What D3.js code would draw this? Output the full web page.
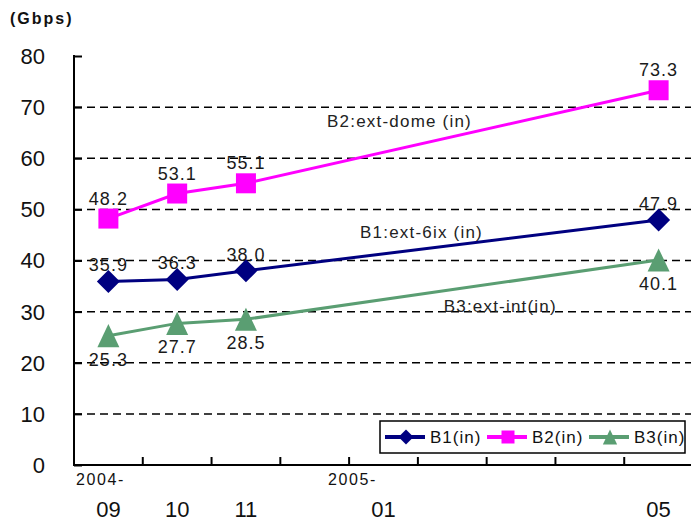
<!DOCTYPE html>
<html>
<head>
<meta charset="utf-8">
<script src="https://cdn.jsdelivr.net/npm/d3@7"></script>
<style>
  body { margin: 0; background: #fff; }
  svg { display: block; }
  text { font-family: "Liberation Sans", Arial, sans-serif; }
</style>
</head>
<body>
<script>
// Months on the category axis (one slot per month, Excel style)
var months = ["2004-09", "2004-10", "2004-11", "2004-12", "2005-01", "2005-02", "2005-03", "2005-04", "2005-05"];
var monthLabels = ["09", "10", "11", "", "01", "", "", "", "05"];
var yearLabels = ["2004-", "", "", "", "2005-", "", "", "", ""];

// Months that actually have measurements
var dataMonths = ["2004-09", "2004-10", "2004-11", "2005-05"];
var b1Values = [35.9, 36.3, 38.0, 47.9];
var b2Values = [48.2, 53.1, 55.1, 73.3];
var b3Values = [25.3, 27.7, 28.5, 40.1];

var seriesNames = ["B1(in)", "B2(in)", "B3(in)"];
var seriesTitles = ["B1:ext-6ix (in)", "B2:ext-dome (in)", "B3:ext-int(in)"];
var yTicks = [0, 10, 20, 30, 40, 50, 60, 70, 80];

var width = 691, height = 522;
var svg = d3.select("body").append("svg")
    .attr("width", width)
    .attr("height", height);

var x = d3.scaleBand().domain(months).range([74, 693]);
var y = d3.scaleLinear().domain([0, 80]).range([465, 56]);
var cx = function(m) { return x(m) + x.bandwidth() / 2; };

// dashed grid lines
svg.append("g").selectAll("line")
    .data(yTicks.filter(function(d) { return d > 0 && d < 80; }))
    .enter().append("line")
    .attr("x1", 74).attr("x2", width)
    .attr("y1", function(d) { return y(d); })
    .attr("y2", function(d) { return y(d); })
    .attr("stroke", "#000")
    .attr("stroke-width", 1.5)
    .attr("stroke-dasharray", "8,5");

// y axis, ticks pointing inward
var yAxis = svg.append("g")
    .attr("transform", "translate(74,0)")
    .call(d3.axisRight(y).tickValues(yTicks).tickSize(8).tickFormat(""));
yAxis.select(".domain").remove();
yAxis.selectAll("line").attr("stroke", "#000").attr("stroke-width", 2);
svg.append("line")
    .attr("x1", 74).attr("x2", 74)
    .attr("y1", y(80) - 1).attr("y2", y(0) + 1)
    .attr("stroke", "#000").attr("stroke-width", 2);

svg.append("g").selectAll("text")
    .data(yTicks)
    .enter().append("text")
    .attr("x", 45)
    .attr("y", function(d) { return y(d); })
    .attr("dy", "0.36em")
    .attr("text-anchor", "end")
    .style("font-size", "22px")
    .attr("fill", "#111")
    .text(function(d) { return d; });

svg.append("text")
    .attr("x", 10).attr("y", 24)
    .style("font-size", "16px")
    .style("font-weight", "bold")
    .attr("letter-spacing", "2")
    .attr("fill", "#111")
    .text("(Gbps)");

// x axis line with ticks between categories
svg.append("line")
    .attr("x1", 74).attr("x2", width)
    .attr("y1", y(0)).attr("y2", y(0))
    .attr("stroke", "#000").attr("stroke-width", 2);
svg.append("g").selectAll("line")
    .data(months.slice(1))
    .enter().append("line")
    .attr("x1", function(d) { return x(d); })
    .attr("x2", function(d) { return x(d); })
    .attr("y1", y(0)).attr("y2", y(0) - 8)
    .attr("stroke", "#000").attr("stroke-width", 2);

svg.append("g").selectAll("text")
    .data(months)
    .enter().append("text")
    .attr("x", function(d) { return cx(d); })
    .attr("y", 517)
    .attr("text-anchor", "middle")
    .style("font-size", "22px")
    .attr("fill", "#111")
    .text(function(d, i) { return monthLabels[i]; });

// year prefixes sit a little left of their month
var yearShift = { "2004-09": -8, "2005-01": -31 };
svg.append("g").selectAll("text")
    .data(months.filter(function(d, i) { return yearLabels[i] !== ""; }))
    .enter().append("text")
    .attr("x", function(d) { return cx(d) + yearShift[d]; })
    .attr("y", 485)
    .attr("text-anchor", "middle")
    .style("font-size", "16px")
    .attr("letter-spacing", "1.6")
    .attr("fill", "#111")
    .text(function(d) { return yearLabels[months.indexOf(d)]; });

// marker shapes
var shapes = {
    diamond: function(s) { return "M0," + (-s) + "L" + s + ",0L0," + s + "L" + (-s) + ",0Z"; },
    square: function(s) { return "M" + (-s) + "," + (-s) + "h" + (2 * s) + "v" + (2 * s) + "h" + (-2 * s) + "Z"; },
    triangle: function(s) { return "M0," + (-s * 1.05) + "L" + s + "," + (s * 1.05) + "L" + (-s) + "," + (s * 1.05) + "Z"; }
};

var series = [
    { name: seriesNames[0], values: b1Values, color: "#000080", shape: "diamond", size: 11.5, labelDy: -10 },
    { name: seriesNames[1], values: b2Values, color: "#ff00ff", shape: "square", size: 10, labelDy: -14 },
    { name: seriesNames[2], values: b3Values, color: "#5a9e72", shape: "triangle", size: 11, labelDy: 30 }
];

var line = d3.line()
    .x(function(d) { return cx(d.month); })
    .y(function(d) { return y(d.value); });

series.forEach(function(s) {
    var pts = dataMonths.map(function(m, i) { return { month: m, value: s.values[i] }; });
    svg.append("path")
        .datum(pts)
        .attr("d", line)
        .attr("fill", "none")
        .attr("stroke", s.color)
        .attr("stroke-width", 3);
    svg.append("g").selectAll("path")
        .data(pts)
        .enter().append("path")
        .attr("d", shapes[s.shape](s.size))
        .attr("transform", function(d) { return "translate(" + cx(d.month) + "," + y(d.value) + ")"; })
        .attr("fill", s.color);
    s.pts = pts;
});

series.forEach(function(s) {
    svg.append("g").selectAll("text")
        .data(s.pts)
        .enter().append("text")
        .attr("x", function(d) { return cx(d.month); })
        .attr("y", function(d) { return y(d.value) + s.labelDy; })
        .attr("text-anchor", "middle")
        .style("font-size", "18px")
        .attr("letter-spacing", "1")
        .attr("fill", "#1a1a1a")
        .text(function(d) { return d.value.toFixed(1); });
});

// series titles written on the chart
var titleSpots = [
    { month: "2005-01", dx: 38, value: 44.4 },
    { month: "2005-01", dx: 16, value: 66.1 },
    { month: "2005-02", dx: 48, value: 30 }
];
svg.append("g").selectAll("text")
    .data(seriesTitles)
    .enter().append("text")
    .attr("x", function(d, i) { return cx(titleSpots[i].month) + titleSpots[i].dx; })
    .attr("y", function(d, i) { return y(titleSpots[i].value); })
    .attr("text-anchor", "middle")
    .style("font-size", "17px")
    .attr("letter-spacing", "1.2")
    .attr("fill", "#222")
    .text(function(d) { return d; });

// legend
var legend = svg.append("g").attr("transform", "translate(380,421)");
legend.append("rect")
    .attr("width", 305).attr("height", 32)
    .attr("fill", "#fff")
    .attr("stroke", "#000")
    .attr("stroke-width", 1.5);
var item = legend.selectAll("g.item")
    .data(series)
    .enter().append("g")
    .attr("class", "item")
    .attr("transform", function(d, i) { return "translate(" + (5 + i * 102) + ",16)"; });
item.append("line")
    .attr("x1", 0).attr("x2", 40)
    .attr("stroke", function(d) { return d.color; })
    .attr("stroke-width", 4);
item.append("path")
    .attr("d", function(d) { return shapes[d.shape](d.size * 0.65); })
    .attr("transform", "translate(21,0)")
    .attr("fill", function(d) { return d.color; });
item.append("text")
    .attr("x", 45)
    .attr("dy", "0.36em")
    .style("font-size", "17px")
    .attr("letter-spacing", "1")
    .attr("fill", "#111")
    .text(function(d) { return d.name; });
</script>
</body>
</html>
